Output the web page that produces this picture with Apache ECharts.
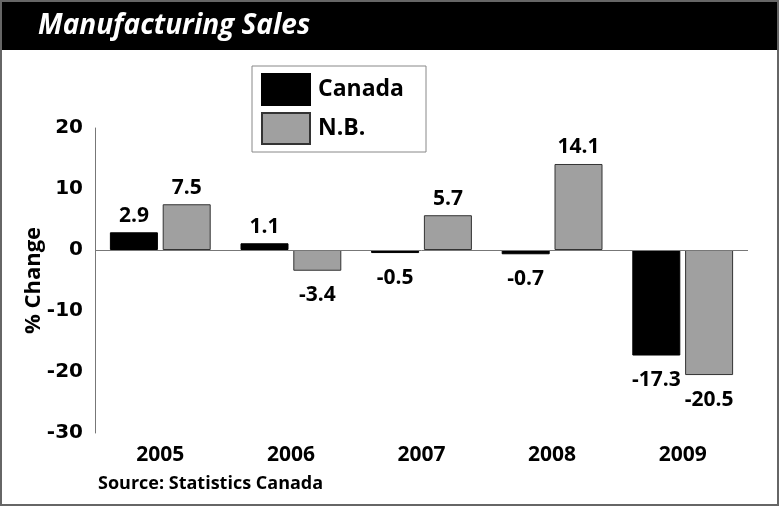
<!DOCTYPE html>
<html>
<head>
<meta charset="utf-8">
<script src="https://cdn.jsdelivr.net/npm/echarts@6/dist/echarts.min.js"></script>
<style>
  html, body {margin: 0; padding: 0; background: #fff;}
  #main {width: 779px; height: 506px;}
</style>
</head>
<body>
<div id="main"></div>
<script>
const years = ['2005', '2006', '2007', '2008', '2009'];
const canada = [2.9, 1.1, -0.5, -0.7, -17.3];
const nb = [7.5, -3.4, 5.7, 14.1, -20.5];
const yTicks = {min: -30, max: 20, interval: 10};

const labelFont = 'Open Sans';

// negative bars get their label underneath, a bit further off
function withLabels(values) {
    return values.map(v => ({
        value: v,
        label: v < 0 ? {position: 'bottom', distance: 14} : {position: 'top', distance: 6}
    }));
}

const barLabel = {
    show: true,
    fontFamily: labelFont,
    fontWeight: 'bold',
    fontSize: 21,
    color: '#000'
};

const option = {
    animation: false,
    backgroundColor: '#fff',
    graphic: [
        {type: 'rect', shape: {x: 0, y: 0, width: 779, height: 50}, style: {fill: '#000'}},
        {type: 'rect', shape: {x: 1, y: 1, width: 777, height: 504}, style: {fill: 'none', stroke: '#666', lineWidth: 2}},
        {
            type: 'text', left: 98, top: 475,
            style: {text: 'Source: Statistics Canada', fontFamily: labelFont, fontWeight: 'bold', fontSize: 18, fill: '#000'}
        }
    ],
    title: {
        text: 'Manufacturing Sales',
        left: 33,
        top: 7,
        textStyle: {
            color: '#fff',
            fontFamily: labelFont,
            fontStyle: 'italic',
            fontWeight: 'bold',
            fontSize: 28
        }
    },
    legend: {
        orient: 'vertical',
        left: 252,
        top: 66,
        padding: [7, 22, 7, 9],
        icon: 'rect',
        itemWidth: 48,
        itemHeight: 31,
        itemGap: 6,
        borderColor: '#888',
        borderWidth: 1,
        textStyle: {fontFamily: labelFont, fontWeight: 'bold', fontSize: 23, color: '#000', padding: [0, 0, 0, 3]},
        data: ['Canada', 'N.B.']
    },
    grid: {left: 95, right: 31, top: 128, bottom: 73},
    xAxis: {
        type: 'category',
        data: years,
        axisLine: {show: false, onZero: false},
        axisTick: {show: false},
        axisLabel: {
            margin: 12,
            fontFamily: labelFont,
            fontWeight: 'bold',
            fontSize: 21,
            color: '#000'
        }
    },
    yAxis: {
        type: 'value',
        min: yTicks.min,
        max: yTicks.max,
        interval: yTicks.interval,
        name: '% Change',
        nameLocation: 'middle',
        nameGap: 50,
        nameMoveOverlap: false,
        nameTextStyle: {fontFamily: labelFont, fontWeight: 'bold', fontSize: 22, color: '#000'},
        axisLine: {show: true, lineStyle: {color: '#777', width: 1}},
        axisTick: {show: false},
        splitLine: {show: false},
        axisLabel: {
            margin: 12,
            fontFamily: 'DejaVu Sans',
            fontWeight: 'bold',
            fontSize: 20,
            color: '#000'
        }
    },
    series: [
        {
            name: 'Canada',
            type: 'bar',
            barWidth: 48,
            barGap: '10%',
            data: withLabels(canada),
            itemStyle: {color: '#000', borderColor: '#000', borderWidth: 1},
            label: barLabel,
            markLine: {
                silent: true,
                symbol: 'none',
                label: {show: false},
                lineStyle: {color: '#777', width: 1, type: 'solid'},
                data: [{yAxis: 0}]
            }
        },
        {
            name: 'N.B.',
            type: 'bar',
            barWidth: 48,
            data: withLabels(nb),
            itemStyle: {color: '#a0a0a0', borderColor: '#333', borderWidth: 1},
            label: barLabel
        }
    ]
};

const myChart = echarts.init(document.getElementById('main'));
myChart.setOption(option);
</script>
</body>
</html>
